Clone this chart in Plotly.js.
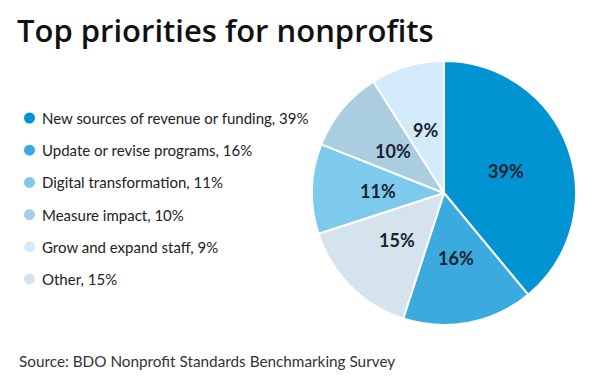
<!DOCTYPE html>
<html>
<head>
<meta charset="utf-8">
<script src="https://cdn.plot.ly/plotly-3.0.1.min.js"></script>
<style>html,body{margin:0;padding:0;background:#fff;}#chart{width:600px;height:382px;}</style>
</head>
<body>
<div id="chart"></div>
<script>
// Pie order (clockwise from top)
var pieLabels = ["New sources of revenue or funding", "Update or revise programs", "Other", "Digital transformation", "Measure impact", "Grow and expand staff"];
var pieValues = [39, 16, 15, 11, 10, 9];
var pieColors = ["#0094d3", "#3aaadf", "#d5e3ed", "#7ecaec", "#abcde0", "#d2eafa"];

// Legend order
var legendLabels = ["New sources of revenue or funding", "Update or revise programs", "Digital transformation", "Measure impact", "Grow and expand staff", "Other"];
var legendValues = [39, 16, 11, 10, 9, 15];
var legendColors = ["#0094d3", "#3aaadf", "#7ecaec", "#abcde0", "#d2eafa", "#d5e3ed"];

var FONT = "Lato, 'Open Sans', sans-serif";
var TFONT = "'Open Sans', Lato, sans-serif";
var W = 600, H = 382;

// pie geometry (pixels)
var PX0 = 312, PX1 = 576, PY0 = 61, PY1 = 325;
var pcx = (PX0 + PX1) / 2 / W, pcy = 1 - (PY0 + PY1) / 2 / H, pr = (PX1 - PX0) / 2;

var annotations = [];
var shapes = [];
var top0 = 118, step = 32.2;
for (var i = 0; i < legendLabels.length; i++) {
  var yc = top0 + i * step;
  annotations.push({
    xref: "paper", yref: "paper", x: 40 / W, y: 1 - yc / H,
    xanchor: "left", yanchor: "middle", showarrow: false,
    text: legendLabels[i] + ", " + legendValues[i] + "%",
    font: {family: FONT, size: 15, color: "#222222"}
  });
  shapes.push({
    type: "circle", xref: "paper", yref: "paper",
    x0: 24 / W, x1: 35 / W, y0: 1 - (yc + 5.5) / H, y1: 1 - (yc - 5.5) / H,
    fillcolor: legendColors[i], line: {width: 0}
  });
}
annotations.push({
  xref: "paper", yref: "paper", x: 17 / W, y: 1 - 361 / H,
  xanchor: "left", yanchor: "middle", showarrow: false,
  text: "Source: BDO Nonprofit Standards Benchmarking Survey",
  font: {family: FONT, size: 15.3, color: "#333333"}
});

// slice labels placed at half radius on each slice's bisector (derived from values)
var total = pieValues.reduce(function (a, b) { return a + b; }, 0);
var cum = 0;
for (var j = 0; j < pieValues.length; j++) {
  var mid = (cum + pieValues[j] / 2) / total * 2 * Math.PI;
  cum += pieValues[j];
  var rr = pr * 0.5;
  annotations.push({
    xref: "paper", yref: "paper",
    x: pcx + rr * Math.sin(mid) / W, y: pcy + rr * Math.cos(mid) / H,
    xanchor: "center", yanchor: "middle", showarrow: false,
    text: pieValues[j] + "%",
    font: {family: FONT, size: 18, color: "#1a2233", weight: 700}
  });
}

var data = [{
  type: "pie",
  labels: pieLabels,
  values: pieValues,
  sort: false,
  direction: "clockwise",
  rotation: 0,
  marker: {colors: pieColors, line: {color: "#ffffff", width: 2}},
  textinfo: "none",
  hoverinfo: "none",
  showlegend: false,
  domain: {x: [PX0 / W, PX1 / W], y: [1 - PY1 / H, 1 - PY0 / H]}
}];

var layout = {
  width: W, height: H,
  margin: {l: 0, r: 0, t: 0, b: 0},
  paper_bgcolor: "#ffffff",
  showlegend: false,
  title: {
    text: "Top priorities for nonprofits",
    x: 17 / W, xanchor: "left", y: 1 - 31 / H, yanchor: "middle",
    font: {family: TFONT, size: 31, color: "#111111", weight: 600}
  },
  annotations: annotations,
  shapes: shapes
};

Plotly.newPlot("chart", data, layout, {displayModeBar: false, staticPlot: true});
</script>
</body>
</html>
